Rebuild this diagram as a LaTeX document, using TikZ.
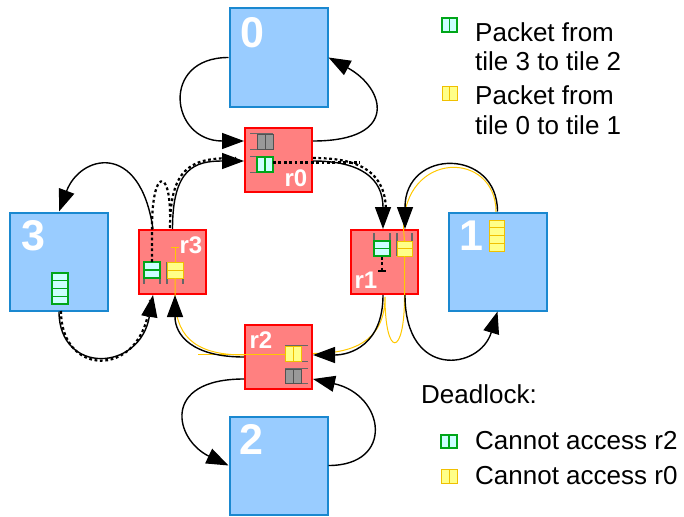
\documentclass[tikz,border=0pt]{standalone}
\usepackage{fontspec}
\setmainfont{Liberation Sans}
\usetikzlibrary{arrows.meta}
\definecolor{tilefill}{HTML}{99CCFF}
\definecolor{tileline}{HTML}{1A88D0}
\definecolor{routerfill}{HTML}{FF8080}
\definecolor{routerline}{HTML}{FF0000}
\definecolor{pktgreen}{HTML}{00A619}
\definecolor{pktcyan}{HTML}{CCFFFF}
\definecolor{pktyellow}{HTML}{FFFF88}
\definecolor{pktgold}{HTML}{F0C000}
\definecolor{railgray}{HTML}{666666}
\definecolor{slotgray}{HTML}{999999}
\definecolor{pathgold}{HTML}{FFC800}
\begin{document}
\begin{tikzpicture}[x=1pt,y=-1pt,
  tile/.style={draw=tileline, fill=tilefill, line width=2pt, minimum width=98pt, minimum height=98pt, inner sep=0pt},
  router/.style={draw=routerline, fill=routerfill, line width=2pt, minimum width=67pt, minimum height=64pt, inner sep=0pt},
  tilelabel/.style={text=white, font=\fontsize{43}{43}\selectfont\bfseries, inner sep=0pt},
  routerlabel/.style={text=white, font=\fontsize{24}{24}\selectfont\bfseries, inner sep=0pt},
  link/.style={line width=1.4pt, -{Triangle[length=22pt,width=16pt]}},
  route/.style={line width=2.2pt, dash pattern=on 2.8pt off 2.6pt},
  yroute/.style={draw=pathgold, line width=1pt},
  rail/.style={draw=railgray, line width=1.2pt},
  slotK/.style={draw=railgray!80!black, fill=slotgray, line width=1pt},
  slotG/.style={draw=pktgreen, fill=pktcyan, line width=1.2pt},
  slotY/.style={draw=pktgold, fill=pktyellow, line width=1pt},
  legtext/.style={font=\fontsize{26}{29}\selectfont, inner sep=0pt, anchor=base west, align=left},
]
\useasboundingbox (0,0) rectangle (684,516);

% tiles and routers
\node[tile] (t0) at (278.5,57.5) {};
\node[tile] (t1) at (497.5,261.5) {};
\node[tile] (t3) at (59,261.5) {};
\node[tile] (t2) at (278.5,465.5) {};
\node[router] (r0) at (278.5,160) {};
\node[router] (r1) at (384,262) {};
\node[router] (r2) at (278.5,356.5) {};
\node[router] (r3) at (172.5,262) {};

\node[tilelabel] (l0) at (252,33) {0};
\node[tilelabel] (l1) at (471,236) {1};
\node[tilelabel] (l3) at (33,236) {3};
\node[tilelabel] (l2) at (251,439) {2};
\node[routerlabel] (lr0) at (296,178) {r0};
\node[routerlabel] (lr3) at (191,245) {r3};
\node[routerlabel] (lr1) at (366,280) {r1};
\node[routerlabel] (lr2) at (261,340) {r2};

% buffers inside the routers
% r0: open to the left
\draw[rail] (250,133.5) -- (273,133.5) (250,149.5) -- (273,149.5);
\draw[slotK] (257,134) rectangle (273,149) (265,134) -- (265,149);
\draw[rail] (250,156.5) -- (273,156.5) (250,172.5) -- (273,172.5);
\draw[slotG] (257,157) rectangle (273,172) (265,157) -- (265,172);
% r2: open to the right
\draw[rail] (285,345.5) -- (308,345.5) (285,361.5) -- (308,361.5);
\draw[slotY] (285,346) rectangle (301,361) (293,346) -- (293,361);
\draw[rail] (285,368.5) -- (308,368.5) (285,383.5) -- (308,383.5);
\draw[slotK] (285,369) rectangle (301,383) (293,369) -- (293,383);
% r1: open at the top
\draw[rail] (374,233) -- (374,256) (390,233) -- (390,256);
\draw[slotG] (374,241) rectangle (390,256) (374,248.5) -- (390,248.5);
\draw[rail] (397,233) -- (397,256) (412,233) -- (412,256);
\draw[slotY] (397,241) rectangle (412,256) (397,248.5) -- (412,248.5);
% r3: open at the bottom
\draw[rail] (144,262) -- (144,284) (160,262) -- (160,284);
\draw[slotG] (144,262) rectangle (160,278) (144,270) -- (160,270);
\draw[rail] (167,262) -- (167,284) (183,262) -- (183,284);
\draw[slotY] (167,262) rectangle (183,278) (167,270) -- (183,270);

% packets waiting in the tiles
\draw[slotY] (489,220) rectangle (504,251) (489,227.75) -- (504,227.75) (489,235.5) -- (504,235.5) (489,243.25) -- (504,243.25);
\draw[slotG] (52,273) rectangle (68,304) (52,280.75) -- (68,280.75) (52,288.5) -- (68,288.5) (52,296.25) -- (68,296.25);

% yellow packet route
\draw[yroute] (496,212) .. controls (496,150) and (403.5,150) .. (403.5,228) -- (404.5,241);
\draw[yroute] (313,353.5) .. controls (350,353.5) and (385,343) .. (385,297) .. controls (385,358) and (404.5,358) .. (404.5,297) -- (404.5,256);
\draw[yroute] (198,354.5) -- (285,354.5);
\draw[yroute] (244,355) .. controls (191,355) and (175,333) .. (175,296) -- (175,278);
\draw[yroute] (175,262) -- (175,247) (171,247) -- (179,247);

% green packet route
\draw[route] (273,162.5) -- (360,162.5);
\draw[route] (313,158) .. controls (363,158) and (386,174) .. (386,212);
\draw[route] (152,262) -- (152,228) .. controls (152,168) and (170,168) .. (170,215);
\draw[route] (170,228) .. controls (170,163) and (195,158) .. (236,158);
\draw[route] (61,311) .. controls (61,379) and (145,379) .. (150,300);
\draw[route] (382,257) -- (382,270);
\draw[line width=2pt] (378,271) -- (386,271);

% links
\draw[link] (t0.west) .. controls (160,57.5) and (170,141) .. ([yshift=19pt]r0.west);
\draw[link] ([yshift=19pt]r0.east) .. controls (400,141) and (385,88) .. (t0.east);
\draw[link] ([yshift=-1pt]r0.east) .. controls (360,161) and (383,178) .. ([xshift=-1pt]r1.north);
\draw[link] (r3.north) .. controls (172.5,168) and (195,161) .. ([yshift=-1pt]r0.west);
\draw[link] ([xshift=-19.5pt]r3.north) .. controls (140,140) and (80,155) .. (t3.north);
\draw[link] (t3.south) .. controls (59,375) and (140,372) .. ([xshift=-19.5pt]r3.south);
\draw[link] ([yshift=-0.5pt]r2.west) .. controls (192,357) and (175,335) .. ([xshift=2.5pt]r3.south);
\draw[link] ([xshift=-1pt]r1.south) .. controls (383,345) and (350,355) .. ([yshift=1.5pt]r2.east);
\draw[link] (t1.north) .. controls (497.5,148) and (405,148) .. ([xshift=21pt]r1.north);
\draw[link] ([xshift=21pt]r1.south) .. controls (405,380) and (480,370) .. (t1.south);
\draw[link] (t2.east) .. controls (395,465.5) and (385,395) .. ([yshift=-22.5pt]r2.east);
\draw[link] ([yshift=-22.5pt]r2.west) .. controls (160,379) and (175,440) .. (t2.west);

% legend
\draw[slotG] (442,18) rectangle (457,32) (449.5,18) -- (449.5,32);
\node[legtext] (lg1) at (475,71) {Packet from\\tile 3 to tile 2};
\draw[slotY] (442,87) rectangle (457,101) (449.5,87) -- (449.5,101);
\node[legtext] (lg2) at (475,134) {Packet from\\tile 0 to tile 1};
\node[legtext] (dl) at (421,403) {Deadlock:};
\draw[slotG] (441,435) rectangle (457,448) (449,435) -- (449,448);
\node[legtext] (dl1) at (475,449) {Cannot access r2};
\draw[slotY] (441,469) rectangle (457,483) (449,469) -- (449,483);
\node[legtext] (dl2) at (475,484) {Cannot access r0};
\end{tikzpicture}
\end{document}
